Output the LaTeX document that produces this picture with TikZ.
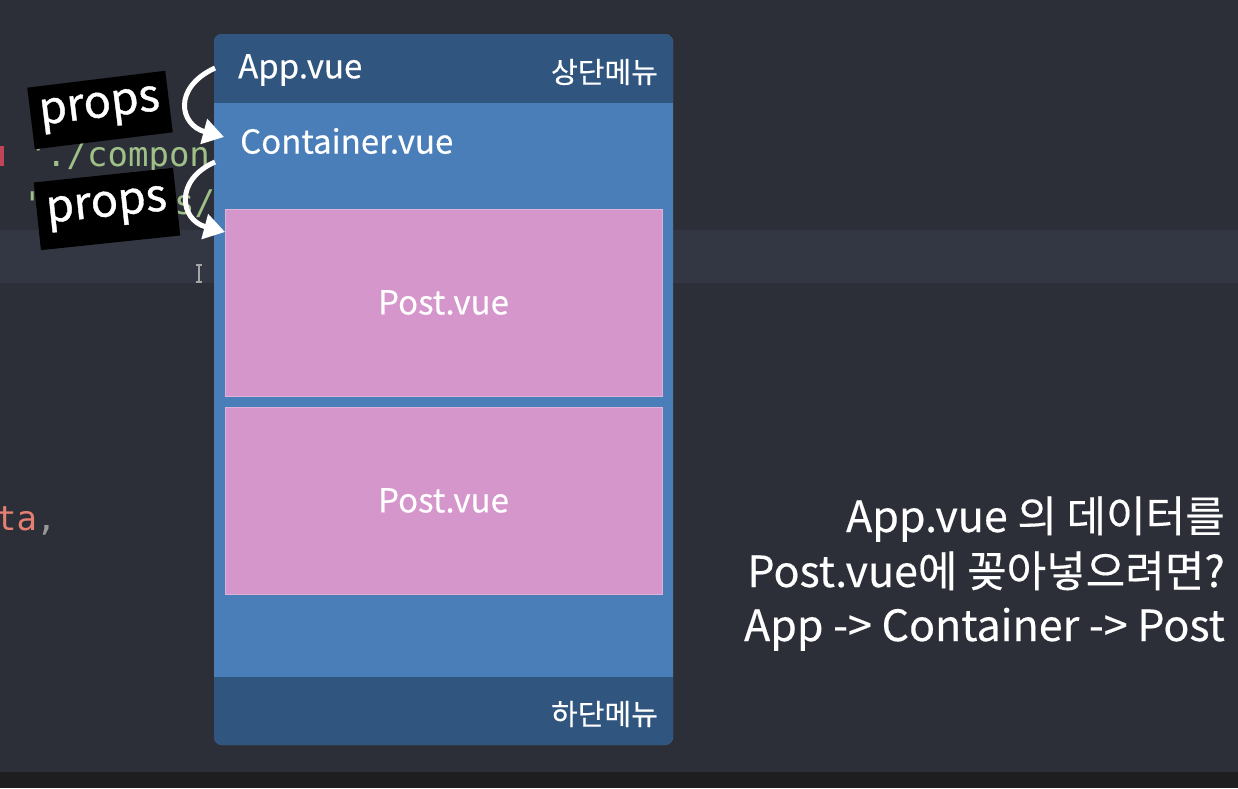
\documentclass[tikz,border=0pt]{standalone}
\usepackage{fontspec}
\setmainfont{Noto Sans CJK KR}[FakeBold=0.35]
\newfontfamily\propsfont{Noto Sans CJK KR}[FakeBold=0.8]
\newfontfamily\codefont{DejaVu Sans Mono}
\usetikzlibrary{arrows.meta}
\definecolor{bg}{HTML}{2D2F38}
\definecolor{band}{HTML}{323743}
\definecolor{strip}{HTML}{1E1E21}
\definecolor{barblue}{HTML}{30557F}
\definecolor{bodyblue}{HTML}{4A7EB8}
\definecolor{pinkbox}{HTML}{D596CC}
\definecolor{codegreen}{HTML}{9FC088}
\definecolor{codered}{HTML}{C0445A}
\definecolor{salmon}{HTML}{E57F72}
\tikzset{
  lbl/.style={text=white, inner sep=0pt, font=\fontsize{33}{38}\selectfont},
  menu/.style={text=white, inner sep=0pt, font=\fontsize{29}{34}\selectfont},
  postbox/.style={fill=pinkbox, draw=pinkbox!75!white, line width=1pt, minimum width=437pt, minimum height=187pt, inner sep=0pt, text=white, font=\fontsize{33}{38}\selectfont},
  propsbox/.style={fill=black, text=white, inner sep=0pt, font=\propsfont\fontsize{45}{50}\selectfont},
  proparrow/.style={white, line width=5pt, -{Triangle[length=21pt,width=25pt]}},
  code/.style={inner sep=0pt, font=\codefont\fontsize{34}{40}\selectfont, anchor=base west},
  note/.style={text=white, inner sep=0pt, font=\fontsize{43}{50}\selectfont, anchor=base east},
}
\begin{document}
\begin{tikzpicture}[x=1pt,y=-1pt]
\useasboundingbox (0,0) rectangle (1238,788);
% background
\fill[bg] (0,0) rectangle (1238,788);
\fill[band] (0,230) rectangle (1238,283);
\fill[strip] (0,772) rectangle (1238,788);
% code fragments
\fill[codered] (0,146) rectangle (4,166);
\node[code, text=codegreen] (q1) at (28,166) {'};
\node[code, text=codegreen] (c1) at (46,166) {./compon};
\node[code, text=codegreen] (q2) at (22,216) {'.};
\node[code, text=codegreen] (c2) at (174,214) {s/};
\node[code, text=salmon] (ta) at (-4,530) {ta};
\node[code, text=gray!80!white] (comma) at (36,530) {,};
% cursor
\draw[gray!70!white, line width=1.2pt] (196,265) -- (202,265) (199,265) -- (199,282) (196,282) -- (202,282);
% panel
\node[fill=bodyblue, rounded corners=8pt, minimum width=459pt, minimum height=711pt, inner sep=0pt] (panel) at (443.5,389.5) {};
\begin{scope}
\clip[rounded corners=8pt] (214,34) rectangle (673,745);
\fill[barblue] (214,34) rectangle (673,103);
\fill[barblue] (214,677) rectangle (673,745);
\end{scope}
\node[lbl, anchor=west] (app) at (238,70) {App.vue};
\node[menu, anchor=east] (topmenu) at (658,72) {상단메뉴};
\node[lbl, anchor=west] (cont) at (240,141) {Container.vue};
\node[postbox] (post1) at (443.5,302.5) {Post.vue};
\node[postbox] (post2) at (443.5,500.5) {Post.vue};
\node[menu, anchor=east] (botmenu) at (658,714) {하단메뉴};
% props labels
\node[propsbox, rotate=7, minimum width=139pt, minimum height=62pt] (props1) at (100,110) {props};
\node[propsbox, rotate=6, minimum width=140pt, minimum height=68pt] (props2) at (107,209) {props};
% arrows
\coordinate (a1s) at (215,68);
\coordinate (a1e) at (224,137);
\coordinate (a2s) at (215,162);
\coordinate (a2e) at (225,232);
\draw[proparrow] (a1s) .. controls (172,88) and (180,125) .. (a1e);
\draw[proparrow] (a2s) .. controls (174,180) and (180,220) .. (a2e);
% note
\node[note] (n1) at (1225,532) {App.vue 의 데이터를};
\node[note] (n2) at (1225,587) {Post.vue에 꽂아넣으려면?};
\node[note] (n3) at (1225,641) {App -> Container -> Post};
\end{tikzpicture}
\end{document}
